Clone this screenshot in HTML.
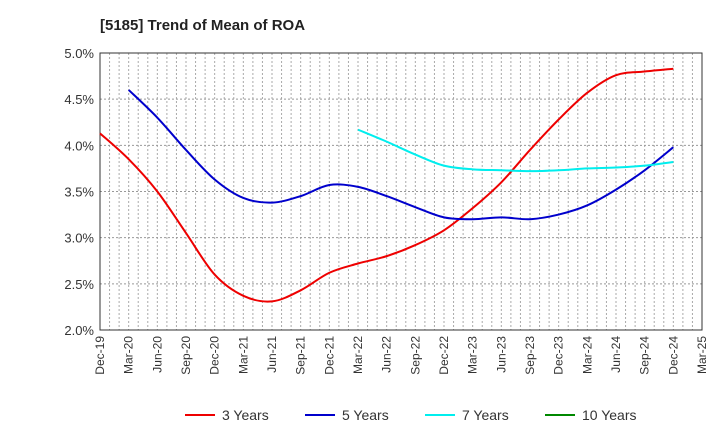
<!DOCTYPE html>
<html><head><meta charset="utf-8"><style>
body{margin:0;background:#fff;font-family:"Liberation Sans",sans-serif}
</style></head><body>
<svg id="chart" width="720" height="440" xmlns="http://www.w3.org/2000/svg">
<text x="100" y="30" font-size="15" font-weight="bold" fill="#222">[5185]  Trend of Mean of ROA</text>
<g id="grid"></g><g id="axes"></g><g id="series"></g><g id="legend"></g>
</svg>
<script>
const xLabels=["Dec-19","Mar-20","Jun-20","Sep-20","Dec-20","Mar-21","Jun-21","Sep-21","Dec-21","Mar-22","Jun-22","Sep-22","Dec-22","Mar-23","Jun-23","Sep-23","Dec-23","Mar-24","Jun-24","Sep-24","Dec-24","Mar-25"];
const yTicks=[2.0,2.5,3.0,3.5,4.0,4.5,5.0];
const s3=[4.13,3.85,3.5,3.05,2.6,2.37,2.31,2.43,2.62,2.72,2.8,2.92,3.08,3.32,3.6,3.95,4.28,4.57,4.76,4.8,4.83];
const s3Start=0;
const s5=[4.6,4.3,3.95,3.63,3.43,3.38,3.45,3.57,3.55,3.45,3.33,3.22,3.2,3.22,3.2,3.25,3.35,3.52,3.73,3.98];
const s5Start=1;
const s7=[4.17,4.04,3.9,3.78,3.74,3.73,3.72,3.73,3.75,3.76,3.78,3.82];
const s7Start=9;
const s10=[];
const L=100,R=702,T=53,B=330;
const NS="http://www.w3.org/2000/svg";
const xs=i=>L+(R-L)*i/(xLabels.length-1);
const ys=v=>B-(v-2)/(5-2)*(B-T);
function mk(tag,attrs,parent){const e=document.createElementNS(NS,tag);for(const k in attrs)e.setAttribute(k,attrs[k]);parent.appendChild(e);return e;}
const grid=document.getElementById('grid'),axes=document.getElementById('axes'),ser=document.getElementById('series'),leg=document.getElementById('legend');
for(let m=1;m<(xLabels.length-1)*3;m++){const x=L+(R-L)*m/((xLabels.length-1)*3);
const g=mk('line',{x1:x,x2:x,y1:T,y2:B,stroke:'#aaa','stroke-dasharray':'2,2','stroke-width':1},grid);

}
yTicks.forEach(v=>{const y=ys(v);
if(v>2&&v<5){const g=mk('line',{x1:L,x2:R,y1:y,y2:y,stroke:'#999','stroke-dasharray':'2,2'},grid);

}
const t=mk('text',{x:L-6,y:y+5,'text-anchor':'end','font-size':13,fill:'#333'},axes);t.textContent=v.toFixed(1)+'%';

});
const fr=mk('rect',{x:L,y:T,width:R-L,height:B-T,fill:'none',stroke:'#333'},axes);


xLabels.forEach((s,i)=>{const x=xs(i);const t=mk('text',{x:x+4,y:B+6,'text-anchor':'end','font-size':12,fill:'#333',transform:`rotate(-90 ${x+4} ${B+6})`},axes);t.textContent=s;

});
function path(vals,start){const p=vals.map((v,i)=>[xs(start+i),ys(v)]);if(p.length<2)return '';let d=`M${p[0][0]},${p[0][1]}`;
for(let i=0;i<p.length-1;i++){const p0=p[i-1]||p[i],p1=p[i],p2=p[i+1],p3=p[i+2]||p2;
d+=` C${p1[0]+(p2[0]-p0[0])/6},${p1[1]+(p2[1]-p0[1])/6} ${p2[0]-(p3[0]-p1[0])/6},${p2[1]-(p3[1]-p1[1])/6} ${p2[0]},${p2[1]}`;}return d;}
[[s3,s3Start,'#e00','series-3-years'],[s5,s5Start,'#00c','series-5-years'],[s7,s7Start,'#0ee','series-7-years'],[s10,0,'#080','series-10-years']].forEach(([v,st,c,n])=>{if(!v.length)return;
const e=mk('path',{d:path(v,st),fill:'none',stroke:c,'stroke-width':2},ser);

});
[['3 Years','#e00',185],['5 Years','#00c',305],['7 Years','#0ee',425],['10 Years','#080',545]].forEach(([t,c,x])=>{
const g=mk('g',{},leg);


mk('line',{x1:x,x2:x+30,y1:415,y2:415,stroke:c,'stroke-width':2},g);
const tx=mk('text',{x:x+37,y:420,'font-size':14,fill:'#333'},g);tx.textContent=t;});
</script>
</body></html>
